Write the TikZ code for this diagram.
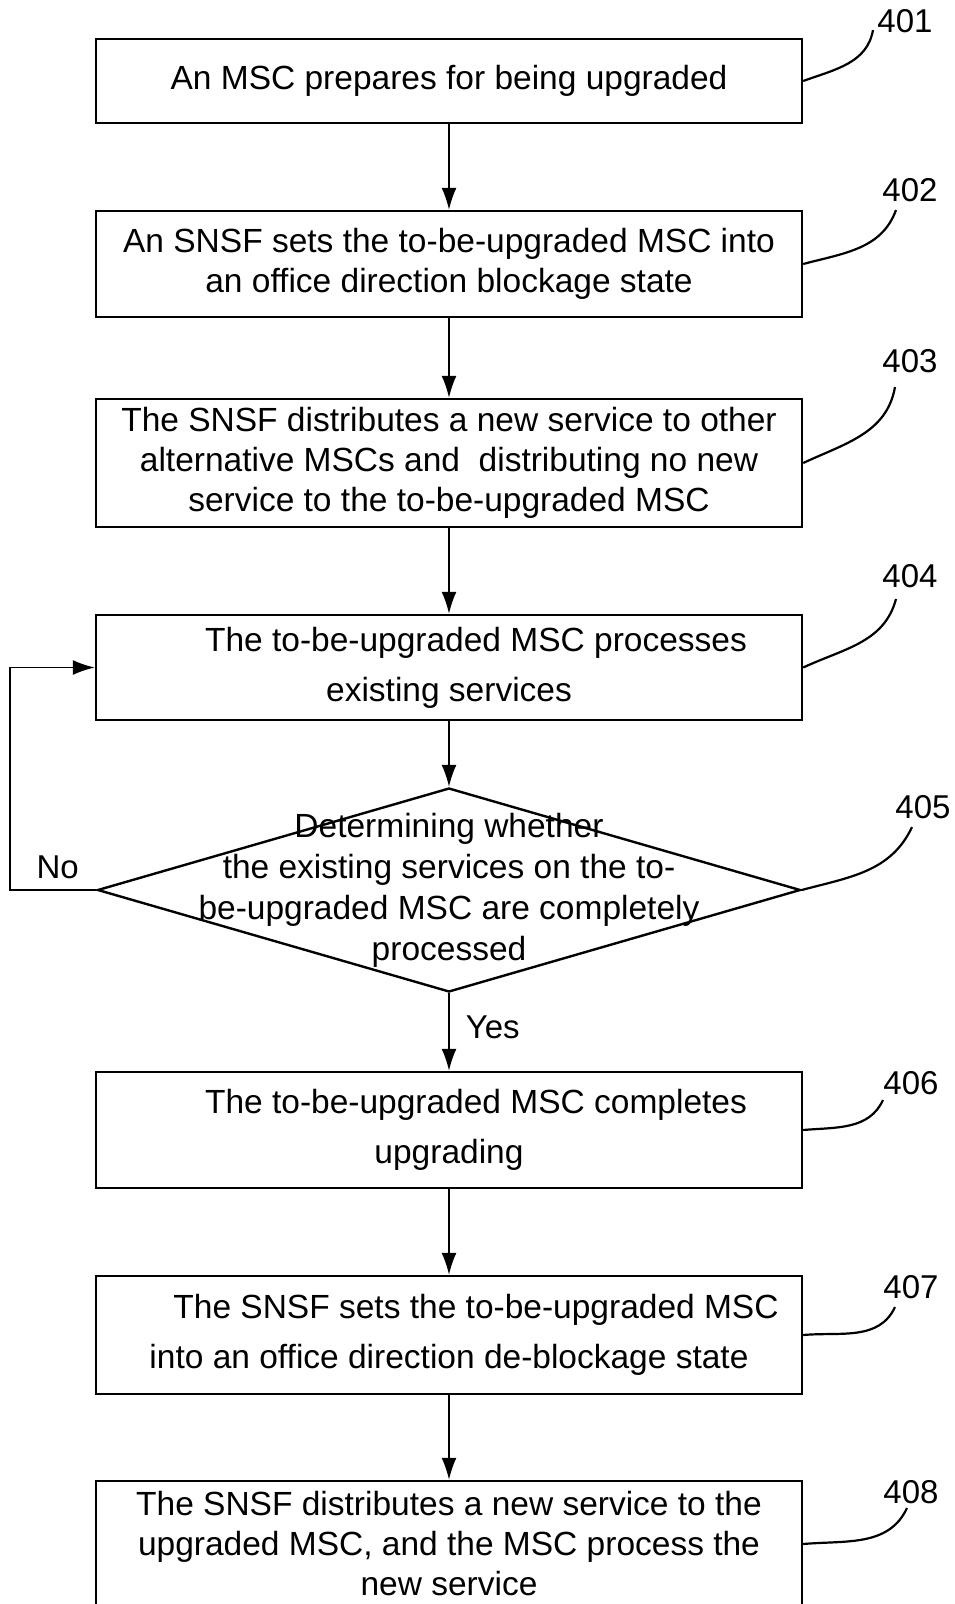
\documentclass[tikz,border=0pt]{standalone}
\usepackage{fontspec}
\setmainfont{Liberation Sans}
\usetikzlibrary{positioning,shapes.geometric,arrows.meta}

\tikzset{
  stepbox/.style={draw, line width=2.4pt, minimum width=706pt, align=center,
    inner sep=0pt, font=\fontsize{33.5}{40}\selectfont},
  widebox/.style={stepbox, font=\fontsize{33.5}{50}\selectfont},
  decision/.style={draw, diamond, line width=2.4pt, minimum width=703pt,
    minimum height=204pt, inner sep=0pt},
  num/.style={inner sep=0pt, font=\fontsize{33}{40}\selectfont},
  lead/.style={line width=2.2pt},
  flow/.style={line width=1.7pt, -{Latex[length=22pt,width=15pt]}},
}

\begin{document}
\begin{tikzpicture}[x=1pt,y=1pt,on grid]
   \path[use as bounding box, clip] (0,0) rectangle (954,-1604);
   % steps
   \node[stepbox, minimum height=84pt] (s401) at (449,-81) {An MSC prepares for being upgraded};
   \node[stepbox, minimum height=106pt] (s402) [below=183pt of s401]
      {An SNSF sets the to-be-upgraded MSC into\\an office direction blockage state};
   \node[stepbox, minimum height=128pt] (s403) [below=199pt of s402]
      {The SNSF distributes a new service to other\\alternative MSCs and~ distributing no new\\service to the to-be-upgraded MSC};
   \node[widebox, minimum height=105pt] (s404) [below=204.5pt of s403]
      {\hspace*{54pt}The to-be-upgraded MSC processes\\existing services};
   \node[decision, label={[align=center, font=\fontsize{33.5}{41}\selectfont]center:{Determining whether\\the existing services on the to-\\be-upgraded MSC are completely\\processed}}]
      (s405) [below=222.5pt of s404] {};
   \node[widebox, minimum height=116pt] (s406) [below=240pt of s405]
      {\hspace*{54pt}The to-be-upgraded MSC completes\\upgrading};
   \node[widebox, minimum height=118pt] (s407) [below=205pt of s406]
      {\hspace*{54pt}The SNSF sets the to-be-upgraded MSC\\into an office direction de-blockage state};
   \node[stepbox, minimum height=126pt] (s408) [below=209pt of s407]
      {The SNSF distributes a new service to the\\upgraded MSC, and the MSC process the\\new service};

   % reference numbers
   \node[num] (n401) at (905,-21) {401};
   \node[num] (n402) at (910,-190) {402};
   \node[num] (n403) at (910,-361) {403};
   \node[num] (n404) at (910,-576) {404};
   \node[num] (n405) at (923,-807) {405};
   \node[num] (n406) at (911,-1083) {406};
   \node[num] (n407) at (911,-1287) {407};
   \node[num] (n408) at (911,-1492) {408};

   \path[flow]
    (s401) edge (s402)
    (s402) edge (s403)
    (s403) edge (s404)
    (s404) edge (s405)
    (s405) edge node[num, pos=0.44, right=16pt] (yes) {Yes} (s406)
    (s406) edge (s407)
    (s407) edge (s408);
   \draw[flow] (s405.west) -- node[num, pos=0.45, above=10pt] (no) {No} ++(-86,0) |- (s404.west);

   \draw[lead] (s401.east) to[out=20,in=-100] ([shift={(-32,-9)}]n401.center);
   \draw[lead] (s402.east) to[out=15,in=-110] ([shift={(-14,-20)}]n402.center);
   \draw[lead] (s403.east) to[out=25,in=-100] ([shift={(-15,-26)}]n403.center);
   \draw[lead] (s404.east) to[out=25,in=-105] ([shift={(-14,-23)}]n404.center);
   \draw[lead] (s405.east) to[out=15,in=-115] ([shift={(-11,-20)}]n405.center);
   \draw[lead] (s406.east) to[out=5,in=-115] ([shift={(-28,-17)}]n406.center);
   \draw[lead] (s407.east) to[out=5,in=-115] ([shift={(-16,-20)}]n407.center);
   \draw[lead] (s408.east) to[out=5,in=-115] ([shift={(-4,-16)}]n408.center);
\end{tikzpicture}
\end{document}
